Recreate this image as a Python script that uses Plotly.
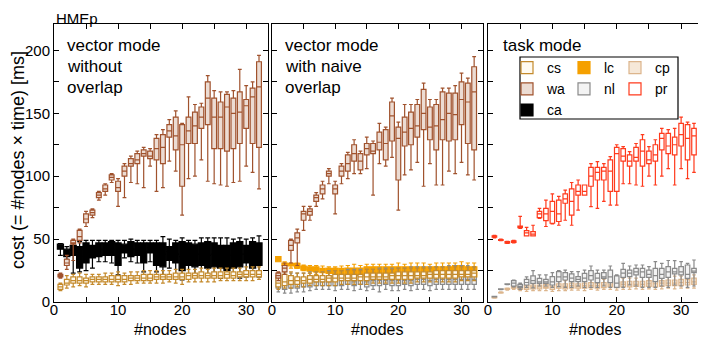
import plotly.graph_objects as go

nodes = list(range(1, 33))

# each entry: (lower whisker, q1, median, q3, upper whisker) for nodes 1..32

# panel 1: vector mode without overlap
ca_p1 = [(37, 42, 44, 46, 46.5), (34, 36, 39, 42, 44), (23, 37, 41, 45, 47), (24, 27, 36, 44, 48),
         (25, 31, 38, 47, 49), (27, 35, 40, 45, 49), (32, 36, 42, 47, 49), (32, 37, 42, 47, 49),
         (31, 37, 42, 48, 49), (21.5, 29, 38, 47, 49), (35, 39, 42, 46, 49), (32, 36, 42, 48, 50),
         (31, 37, 42, 47, 49), (24, 31, 40, 47, 49), (32, 39, 43, 47, 49), (24, 29, 38, 47, 49),
         (20, 28, 38, 47, 52), (27, 33, 40, 44, 50), (20, 31, 38, 47, 49), (17.5, 25, 36, 48, 51),
         (20, 29, 38, 47, 49), (20, 28, 37, 46, 49), (20, 29, 38, 47, 51), (20, 27, 37, 48, 51),
         (20, 28, 38, 47, 51), (19, 27, 36, 45, 51), (19.5, 25, 36, 45, 51), (20, 27, 37, 47, 50),
         (19, 28, 38, 48, 51), (20, 31, 38, 45, 50), (21.5, 27, 37, 48, 51), (20, 29, 38, 47, 52.5)]

cs_p1 = [(9, 10, 12, 14, 15), (11, 13.5, 15, 18, 21), (12, 15, 17, 20, 22), (13, 15, 17, 20, 23),
         (12, 15, 17, 19, 22), (14, 16, 18, 20, 22), (14, 16, 18, 20, 22), (14, 16, 18, 20, 23),
         (14, 16, 18, 21, 23), (13, 16, 18, 21, 24), (14, 16, 18, 21, 23), (14, 17, 19, 21, 24),
         (15, 17, 19, 21, 24), (15, 17, 19, 22, 25), (15, 17, 19, 22, 25), (15, 18, 20, 22, 25),
         (15, 18, 20, 22, 25), (16, 18, 20, 22, 25), (15, 18, 20, 23, 26), (14, 18, 20, 23, 26),
         (16, 18, 21, 23, 26), (16, 19, 21, 23, 26), (16, 19, 21, 24, 27), (16, 19, 21, 23, 26),
         (16, 19, 21, 24, 27), (17, 19, 21, 24, 27), (17, 19, 22, 24, 27), (17, 19, 21, 24, 27),
         (17, 20, 22, 24, 27), (17, 20, 22, 25, 28), (17, 20, 22, 25, 28), (18, 20, 22, 25, 28)]

wa_p1 = [(19, 20, 21, 22, 23), (26, 29, 31, 34, 37), (33, 46, 47, 49, 50), (47, 49, 52, 57, 58),
         (60, 63, 66, 70, 72), (67, 69, 71, 73, 74), (81, 83, 85, 87, 88), (85, 88, 90, 93, 94),
         (95, 97, 99, 101, 102), (76, 88, 91, 96, 98), (83, 100, 104, 108, 110), (95, 108, 110, 114, 116),
         (94, 110, 113, 118, 120), (91, 116, 118, 121, 123), (108, 114, 116, 120, 122), (88, 113, 122, 130, 133),
         (91, 110, 123, 133, 137), (112, 131, 136, 141, 145), (104, 121, 132, 147, 152), (69, 92, 125, 141, 142),
         (98, 126, 136, 147, 163), (100, 126, 140, 151, 157), (113, 138, 147, 155, 158), (96, 141, 162, 175, 180),
         (94, 122, 147, 162, 168), (93, 122, 147, 159, 167), (92, 120, 155, 165, 167), (95, 122, 150, 162, 168),
         (96, 126, 151, 167, 185), (108, 138, 156, 161, 172), (103, 126, 163, 170, 175), (90, 123, 171, 191, 196)]

# panel 2: vector mode with naive overlap
lc_p2 = [(32, 32, 34, 36, 36), (28.6, 29, 30, 31, 32), (27, 28.6, 29.5, 30.7, 31), (26.8, 27, 28.6, 30.7, 31),
         (25, 25.4, 27, 28.6, 29.4), (23, 24.5, 26, 28, 29), (22, 24, 26, 28, 29), (21, 23.3, 25, 26.8, 28.6),
         (20, 22.8, 25, 26.8, 28), (20, 22.8, 25, 26.8, 28), (19, 21.5, 24, 26.8, 28.6), (18, 21, 24, 27, 29),
         (17, 21, 24, 27, 30), (18, 21, 24, 27, 29), (17, 20, 24, 28, 30), (17, 21, 24, 28, 30),
         (16, 20, 24, 28, 30), (17, 21, 25, 28, 30), (17, 20, 24, 28, 30), (16, 20, 24, 28, 31),
         (17, 21, 24, 28, 30), (17, 20, 24, 28, 31), (16, 20, 24, 28, 31), (17, 21, 25, 28, 31),
         (17, 20, 24, 28, 30), (16, 20, 24, 28, 31), (17, 20, 24, 28, 31), (16, 20, 24, 28, 31),
         (17, 21, 25, 29, 31), (16, 20, 24, 29, 32), (17, 20, 24, 28, 31), (16, 20, 24, 28, 31)]

nl_p2 = [(8, 11, 14, 18, 21), (7, 10, 14, 18, 22), (7, 11, 14, 18, 23), (8, 11, 15, 19, 23),
         (8, 12, 15, 19, 23), (9, 12, 16, 20, 24), (10, 13, 16, 20, 24), (10, 13, 16, 20, 24),
         (10, 13, 16, 21, 25), (9, 13, 17, 21, 25), (10, 13, 17, 21, 25), (10, 14, 17, 21, 26),
         (9, 13, 16, 20, 26), (10, 14, 17, 21, 26), (9, 12, 16, 21, 26), (10, 13, 17, 22, 26),
         (8, 13, 17, 22, 27), (10, 14, 17, 22, 27), (9, 13, 17, 22, 27), (9, 13, 17, 22, 27),
         (10, 14, 17, 22, 27), (9, 13, 17, 22, 28), (10, 14, 18, 22, 28), (10, 14, 18, 23, 28),
         (9, 13, 17, 22, 28), (10, 14, 18, 23, 28), (10, 14, 18, 23, 28), (10, 14, 18, 23, 29),
         (10, 14, 18, 23, 29), (10, 14, 18, 24, 29), (10, 14, 18, 23, 29), (10, 14, 18, 23, 28)]

cs_p2 = [(10, 12, 15, 21, 23), (11, 13, 16, 22, 24), (11, 14, 17, 21, 24), (12, 14, 17, 20, 23),
         (12, 15, 17, 20, 23), (13, 15, 18, 21, 23), (13, 16, 18, 21, 24), (13, 16, 18, 21, 24),
         (13, 16, 19, 21, 24), (13, 16, 19, 22, 25), (14, 17, 19, 22, 25), (14, 17, 19, 22, 25),
         (14, 17, 19, 22, 25), (14, 17, 20, 22, 25), (14, 17, 20, 23, 26), (15, 18, 20, 23, 26),
         (15, 18, 20, 23, 26), (15, 18, 20, 23, 26), (15, 18, 21, 23, 26), (15, 18, 21, 24, 27),
         (15, 18, 21, 24, 27), (15, 18, 21, 24, 27), (16, 19, 21, 24, 27), (16, 19, 21, 24, 27),
         (16, 19, 22, 24, 27), (16, 19, 22, 25, 28), (16, 19, 22, 25, 28), (16, 19, 22, 25, 28),
         (16, 19, 22, 25, 28), (17, 20, 22, 25, 28), (17, 20, 22, 25, 28), (17, 20, 23, 25, 28)]

wa_p2 = [(17, 19, 21, 23, 24), (22, 24, 27, 29, 31), (31, 41, 45, 49, 50), (29, 47, 51, 55, 58),
         (57, 65, 70, 72, 76), (65, 69, 72, 74, 76), (76, 80, 83, 85, 87), (82, 86, 90, 93, 96),
         (94, 100, 102, 104, 106), (70, 86, 90, 93, 96), (94, 100, 104, 108, 110), (98, 104, 110, 117, 119),
         (102, 112, 118, 125, 129), (102, 105, 112, 118, 120), (106, 117, 122, 126, 131), (85, 118, 120, 126, 128),
         (110, 121, 127, 135, 142), (108, 113, 126, 137, 139), (115, 128, 148, 159, 162), (73, 97, 130, 139, 143),
         (101, 124, 135, 147, 157), (105, 125, 138, 151, 157), (111, 131, 140, 157, 161), (92, 137, 150, 169, 174),
         (110, 129, 139, 155, 161), (93, 121, 140, 157, 161), (93, 129, 145, 167, 170), (104, 128, 150, 166, 170),
         (102, 129, 149, 166, 172), (111, 141, 161, 175, 182), (101, 126, 159, 174, 178), (97, 121, 167, 187, 195)]

# panel 3: task mode
cp_p3 = [(3, 3.2, 3.5, 3.8, 4), (7, 7.2, 7.4, 7.6, 8), (9.5, 10, 10.4, 10.8, 11), (10, 11, 12, 13, 14),
         (9, 10, 11, 12.5, 13.5), (8.5, 10, 11.5, 13, 14.5), (9, 10.5, 12, 13.5, 15), (9, 10.5, 12, 13.5, 15.5),
         (9, 11, 12, 14, 16), (8.5, 10, 12, 14, 16), (9, 11, 12.5, 14.5, 16.5), (9, 10.5, 12.5, 14.5, 17),
         (9.5, 11, 13, 15, 17), (9.5, 11, 12.5, 14.5, 17), (9, 11, 13, 15, 17.5), (10, 11.5, 13, 15.5, 18),
         (9.5, 11, 13, 15, 18), (10, 11.5, 13.5, 15.5, 18), (10, 12, 13.5, 16, 18.5), (9.5, 11.5, 13.5, 16, 18.5),
         (10, 12, 14, 16, 19), (10, 12, 14, 16.5, 19), (10.5, 12.5, 14, 16.5, 19), (10, 12, 14, 16.5, 19.5),
         (10.5, 12.5, 14.5, 17, 19.5), (10, 12, 14.5, 17, 19.5), (10.5, 12.5, 15, 17, 20), (11, 13, 15, 17.5, 20),
         (10.5, 13, 15, 17.5, 20.5), (11, 13, 15.5, 18, 20.5), (11, 13.5, 15.5, 18, 21), (11, 14, 16, 19, 21.5)]

nl_p3 = [(4, 4, 4.2, 4.5, 4.5), (9.8, 10, 10.1, 10.4, 10.5), (13.8, 14, 14.1, 14.4, 14.5), (12, 12.7, 15, 17, 17.5),
         (10, 11.5, 12.5, 14, 15), (11.7, 13.5, 15.5, 18, 20), (11.2, 14.8, 17, 20.7, 24.9), (12.7, 14.8, 16, 18.8, 21.5),
         (12.7, 14.8, 16, 18, 21.5), (11.7, 13.5, 16, 20.1, 23.3), (12.2, 16.2, 20, 24.1, 24.9), (11.7, 17.5, 20, 23.3, 25.4),
         (11.7, 16.2, 19, 22.3, 24.1), (12.7, 16.2, 18, 20.1, 24.1), (11.7, 16.2, 19, 22.8, 25.4), (11.7, 17.5, 21, 24.9, 28.6),
         (11.7, 15.4, 19, 22.8, 25.4), (12.7, 18.8, 20, 23.3, 25.4), (11.7, 15.4, 20, 25.4, 28.6), (11.7, 11.7, 15, 20.7, 21.5),
         (11.7, 19.6, 23, 26, 30.7), (13.5, 20.1, 23, 25.4, 28.6), (12.7, 21.5, 24, 26.8, 29.4), (11.7, 19.6, 24, 26.8, 29.4),
         (11.7, 19.6, 22, 25.4, 28.1), (11.7, 16.2, 21, 26.8, 32.1), (12.7, 18.8, 22, 26.8, 30.7), (11.7, 19.6, 24, 28.1, 33),
         (13.5, 22.3, 24, 26.8, 32.9), (12.7, 21.5, 24, 28.1, 32.1), (11.7, 18.8, 22, 29.4, 30.7), (12.7, 23.3, 24.5, 26.8, 33.4)]

pr_p3 = [(51, 51.5, 52, 52.5, 53), (48.8, 49, 49.3, 49.6, 50), (46.5, 46.8, 47.4, 48, 48.3), (47, 47.3, 48, 48.6, 49),
         (58.6, 59.2, 60, 60.4, 68), (52.5, 52.5, 55, 56.7, 59.4), (52.5, 52.5, 54, 56, 61), (66.5, 67, 70, 72, 74.5),
         (60, 64.7, 70, 74.5, 81), (62, 62.6, 72, 80, 86), (61, 64, 70, 81, 84), (65, 78.5, 82, 86, 89),
         (61, 69, 80, 90, 95), (73, 85, 88, 93, 97), (85, 85, 88, 93, 93), (75.8, 92, 100, 107, 110),
         (74.5, 97, 103, 107, 111.6), (80, 97, 104, 107, 110), (77, 88, 104, 113, 115.6), (77, 88, 118, 123, 125),
         (94, 112, 116, 122, 123.5), (94, 108, 112, 117, 119.5), (93, 112, 115, 123, 126), (92, 108, 120, 129, 133),
         (100, 110, 113, 120, 123.5), (93, 112, 117, 125, 129), (100, 121, 130, 134, 138), (106, 118, 124, 134, 137),
         (93, 117, 125, 131, 138), (106, 124, 133, 142, 147), (98, 113, 130, 141, 143), (103, 117, 132, 138, 142)]

panel_text = [["vector mode", "without", "overlap"],
              ["vector mode", "with naive", "overlap"],
              ["task mode"]]

FONT = "Liberation Sans, Arial, sans-serif"

# name -> (line colour, fill colour, box width, legend id, legend rank)
styles = {
    "cs": ("#c48a2c", "#fffaf0", 0.75, "legend", 1),
    "wa": ("#a0522d", "#ecdcd3", 0.75, "legend", 2),
    "ca": ("#000000", "#000000", 0.95, "legend", 3),
    "lc": ("#f5a000", "#f5a000", 0.85, "legend2", 4),
    "nl": ("#8a8a8a", "#f3f3f3", 0.7, "legend2", 5),
    "cp": ("#dcb58c", "#f6e8d8", 0.7, "legend3", 6),
    "pr": ("#ff3a1c", "#ffffff", 0.7, "legend3", 7),
}

# the page body adds an 8px offset; positions below are screen pixels
OFF = 8
PLOT_L, PLOT_T, PLOT_W, PLOT_H = 54, 24, 649, 278


def px(xs):
    return (xs - PLOT_L) / PLOT_W


def py(ys):
    return (PLOT_T + PLOT_H - ys) / PLOT_H


fig = go.Figure()


def add_box(stats, name, panel, show):
    line, fill, width, leg, rank = styles[name]
    lo, q1, med, q3, hi = zip(*stats)
    sfx = "" if panel == 1 else str(panel)
    fig.add_trace(go.Box(
        x=nodes, lowerfence=list(lo), q1=list(q1), median=list(med),
        q3=list(q3), upperfence=list(hi),
        name=name, showlegend=show, legend=leg, legendrank=rank,
        xaxis="x" + sfx, yaxis="y" + sfx,
        line=dict(color=line, width=1.2), fillcolor=fill,
        width=width, whiskerwidth=0.8, boxpoints=False,
    ))


# panel 1
add_box(ca_p1, "ca", 1, True)
add_box(cs_p1, "cs", 1, True)
add_box(wa_p1, "wa", 1, True)
# panel 2
add_box(lc_p2, "lc", 2, True)
add_box(nl_p2, "nl", 2, True)
add_box(cs_p2, "cs", 2, False)
add_box(wa_p2, "wa", 2, False)
# panel 3
add_box(cp_p3, "cp", 3, True)
add_box(nl_p3, "nl", 3, False)
add_box(pr_p3, "pr", 3, True)

# axes
domains = [[0, 0.3297], [0.3359, 0.661], [0.6687, 1]]
for i, dom in enumerate(domains, start=1):
    sfx = "" if i == 1 else str(i)
    fig.update_layout(**{
        f"xaxis{sfx}": dict(
            domain=dom, anchor=f"y{sfx}", range=[0, 33.4], dtick=10, tick0=0,
            ticks="inside", ticklen=5, tickcolor="black",
            minor=dict(dtick=5, ticks="inside", ticklen=5, tickcolor="black"),
            showline=True, linecolor="black", linewidth=1, mirror="ticks",
            showgrid=False, zeroline=False, automargin=False,
            tickfont=dict(size=15, color="black"), ticklabelstandoff=-6,
        ),
        f"yaxis{sfx}": dict(
            anchor=f"x{sfx}", range=[0, 221], dtick=50, tick0=0,
            ticks="inside", ticklen=5, tickcolor="black",
            minor=dict(dtick=25, ticks="inside", ticklen=5, tickcolor="black"),
            showline=True, linecolor="black", linewidth=1, mirror="ticks",
            showgrid=False, zeroline=False, automargin=False,
            showticklabels=(i == 1),
            tickfont=dict(size=15, color="black"),
            matches=None if i == 1 else "y",
        ),
    })
    # x axis title and panel label lines
    fig.add_annotation(text="#nodes", xref=f"x{sfx} domain", yref="paper", x=0.5, y=py(329),
                       xanchor="center", yanchor="middle", showarrow=False,
                       font=dict(size=16, color="black"))
    for k, line in enumerate(panel_text[i - 1]):
        fig.add_annotation(text=line, xref=f"x{sfx} domain", yref="paper",
                           x=0.052 if i < 3 else 0.062, y=py(46 + 20.5 * k),
                           xanchor="left", yanchor="middle", showarrow=False,
                           font=dict(size=17, color="black"))

# y axis title
fig.add_annotation(text="cost (= #nodes \u00d7 time) [ms]", textangle=-90,
                   xref="paper", yref="paper", x=px(18), y=py(160),
                   xanchor="center", yanchor="middle", showarrow=False,
                   font=dict(size=18, color="black"))

fig.add_annotation(text="HMEp", xref="paper", yref="paper", x=0.0, y=py(OFF),
                   xanchor="left", yanchor="top", showarrow=False,
                   font=dict(size=15, color="black"))

# legend frame
fig.add_shape(type="rect", xref="paper", yref="paper",
              x0=px(520), x1=px(678), y0=py(119), y1=py(57),
              line=dict(color="black", width=1.2), fillcolor="rgba(0,0,0,0)")

leg_common = dict(orientation="v", xanchor="left", yanchor="top", y=py(52),
                  bgcolor="rgba(0,0,0,0)", font=dict(size=14, color="black"),
                  itemwidth=30, tracegroupgap=0)

fig.update_layout(
    width=706 - OFF, height=338 - OFF,
    margin=dict(l=PLOT_L - OFF, r=706 - PLOT_L - PLOT_W, t=PLOT_T - OFF, b=338 - PLOT_T - PLOT_H),
    boxmode="overlay",
    plot_bgcolor="white", paper_bgcolor="white",
    font=dict(family=FONT, color="black"),
    legend=dict(x=px(507), **leg_common),
    legend2=dict(x=px(564), **leg_common),
    legend3=dict(x=px(615), **leg_common),
)

fig.write_html("out.html")
